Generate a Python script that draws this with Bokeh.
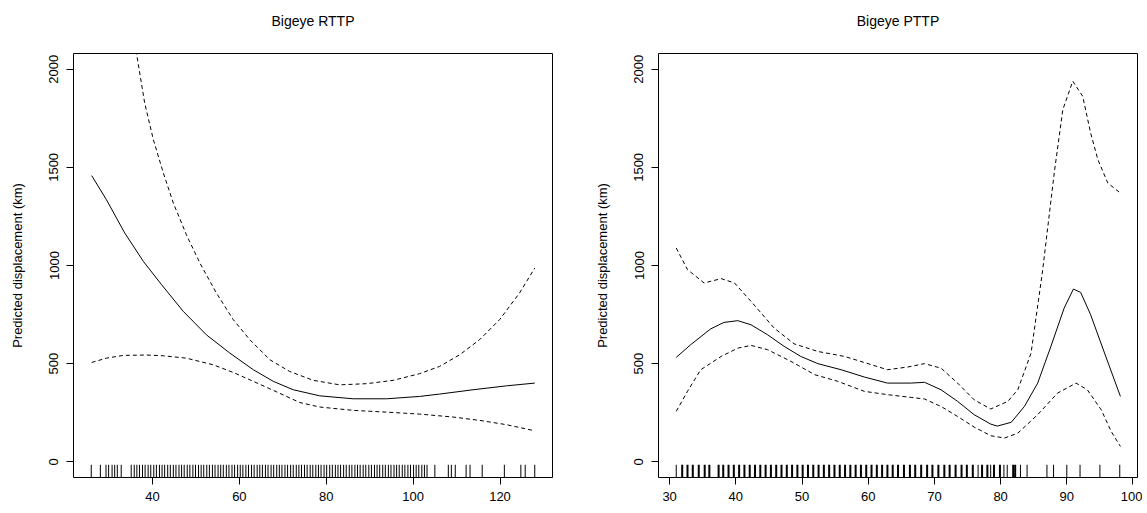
from bokeh.plotting import figure
from bokeh.layouts import row
from bokeh.models import Range1d, FixedTicker, LinearAxis
from bokeh.embed import file_html
from bokeh.resources import INLINE

# ---------------- Bigeye RTTP ----------------
rttp_fit_x = [26, 29.4, 33.6, 37.9, 42.1, 47.1, 52.4, 57.8, 63.2, 67.8, 72.4, 78.5, 86.2, 93.9, 101.5, 106.1, 113.8, 121.5, 128]
rttp_fit_y = [1458, 1335, 1166, 1021, 902, 766, 647, 554, 469, 410, 367, 336, 321, 321, 333, 345, 367, 387, 401]

rttp_up_x = [26, 34, 36.3, 38.2, 40.2, 42.5, 44.8, 47.8, 50.9, 54.7, 58.6, 62.4, 67, 71.6, 77, 83.1, 89.3, 95.4, 101.5, 106.1, 110.7, 115.3, 119.9, 124.5, 128]
rttp_up_y = [3900, 2420, 2083, 1828, 1641, 1471, 1318, 1157, 1013, 860, 724, 622, 520, 460, 415, 392, 398, 415, 449, 486, 545, 622, 724, 860, 987]

rttp_lo_x = [26, 29.4, 33.3, 38.6, 42.5, 47.8, 54, 58.6, 63.2, 67.8, 73.9, 78.5, 86.2, 93.9, 101.5, 109.2, 115.3, 121.5, 128]
rttp_lo_y = [506, 528, 542, 544, 540, 528, 494, 455, 410, 364, 302, 279, 262, 253, 243, 228, 211, 189, 158]

rttp_rug = [25.9, 28.0, 29.3, 29.9, 30.7, 31.3, 31.9, 32.8,
            35.1, 35.8, 36.4, 37.0, 37.7, 38.3, 39.0, 39.6, 40.3, 40.9, 41.6, 42.2, 42.8, 43.5, 44.1,
            44.8, 45.4, 46.1, 46.7, 47.3, 48.0, 48.6, 49.3, 49.9, 50.6, 51.2, 51.8, 52.5, 53.1, 53.8,
            54.4, 55.1, 55.7, 56.3, 57.0, 57.6, 58.3, 58.9, 59.6, 60.2, 60.8, 61.5, 62.1, 62.8, 63.4,
            64.1, 64.7, 65.3, 66.0, 66.6, 67.3, 67.9, 68.6, 69.2, 69.8, 70.5, 71.1, 71.8, 72.4, 73.1,
            73.7, 74.3, 75.0, 75.6, 76.3, 76.9, 77.6, 78.2, 78.8, 79.5, 80.1, 80.8, 81.4, 82.1, 82.7,
            83.3, 84.0, 84.6, 85.3, 85.9, 86.6, 87.2, 87.8, 88.5, 89.1, 89.8, 90.4, 91.1, 91.7, 92.3,
            93.0, 93.6, 94.3, 94.9, 95.6, 96.2, 96.8, 97.5, 98.1, 98.8, 99.4, 100.1, 100.7, 101.3,
            102.0, 102.6, 103.2,
            105.0, 108.1, 108.8, 109.7, 112.2, 113.1, 115.9, 121.0, 124.8, 125.8, 128.0]
rttp_xticks = [40, 60, 80, 100, 120]

# ---------------- Bigeye PTTP ----------------
pttp_fit_x = [31, 33.2, 36.2, 38.2, 40.3, 42.3, 44.8, 47.3, 49.8, 52.4, 55.9, 59.4, 62.9, 66.5, 68.5, 71, 73.5, 76, 78.5, 79.5, 81.6, 83.6, 85.6, 87.6, 89.6, 91, 92.1, 93.6, 95.7, 98.1]
pttp_fit_y = [532, 597, 677, 710, 719, 698, 647, 588, 537, 500, 469, 432, 401, 401, 405, 367, 308, 240, 192, 182, 201, 282, 401, 588, 783, 880, 863, 749, 554, 333]

pttp_up_x = [31, 32.7, 35.2, 37.8, 39.8, 42.3, 45.8, 48.8, 52.4, 56.4, 59.4, 62.9, 66, 68.5, 71, 73.5, 76, 78.5, 81.1, 82.6, 84.6, 86.3, 88.1, 89.4, 90.9, 92.4, 93.6, 94.7, 96.2, 98.1]
pttp_up_y = [1089, 979, 911, 933, 911, 817, 681, 601, 562, 537, 506, 469, 483, 500, 477, 401, 316, 269, 308, 367, 554, 962, 1471, 1794, 1939, 1862, 1675, 1539, 1420, 1369]

pttp_lo_x = [31, 32.7, 34.7, 37.8, 40.3, 42.3, 44.8, 48.3, 51.9, 55.4, 59.4, 62.9, 66.5, 68.5, 71, 73.5, 76, 78.5, 80.6, 82.6, 85.6, 88.6, 91.4, 93.1, 95.2, 96.7, 98.1]
pttp_lo_y = [257, 359, 469, 537, 579, 593, 571, 512, 444, 410, 359, 342, 328, 320, 282, 231, 177, 133, 121, 146, 240, 350, 401, 367, 265, 155, 78]

pttp_rug_dense = [31.9, 32.7, 33.5, 34.4, 35.3, 36.0, 37.4, 38.1, 38.9, 39.7, 40.5, 41.3, 42.1, 42.9,
                  43.7, 44.5, 45.3, 46.1, 46.9, 47.7, 48.5, 49.3, 50.1, 50.9, 51.7, 52.5, 53.3, 54.1,
                  54.9, 55.7, 56.5, 57.3, 58.1, 58.9, 59.7, 60.5, 61.3, 62.1, 62.9, 63.7, 64.5, 65.4,
                  66.3, 67.1, 68.0, 68.9, 69.7, 70.6, 71.5, 72.3, 73.2, 74.1, 74.9, 75.8, 77.2, 78.0,
                  79.0, 79.9, 81.9, 82.2]
pttp_rug_sparse = [31.0, 76.6, 78.5, 80.5, 81.0, 83.0, 84.0, 87.0, 88.0, 90.0, 92.0, 95.0, 98.0]
pttp_xticks = [30, 40, 50, 60, 70, 80, 90, 100]

y_ticks = [0, 500, 1000, 1500, 2000]
y_label = "Predicted displacement (km)"
FONT = "Liberation Sans"
FRAME_H = 424


def make_panel(title, xlo, xhi, xticks, width, left_border, right_border):
    xpad = 0.04 * (xhi - xlo)
    ylo, yhi = 0, 2000
    ypad = 0.04 * (yhi - ylo)
    p = figure(width=width, height=53 + FRAME_H + 31,
               x_range=Range1d(xlo - xpad, xhi + xpad),
               y_range=Range1d(ylo - ypad, yhi + ypad),
               output_backend="svg", toolbar_location=None, title_location=None,
               min_border_left=left_border, min_border_right=right_border,
               min_border_top=53, min_border_bottom=31)
    p.grid.visible = False
    p.outline_line_color = "black"
    p.outline_line_width = 1
    p.outline_line_alpha = 1
    p.background_fill_color = "white"
    p.border_fill_color = "white"

    for ax in p.axis:
        ax.axis_line_color = None
        ax.major_tick_in = 0
        ax.major_tick_out = 7
        ax.minor_tick_line_color = None
        ax.major_tick_line_color = "black"
        ax.major_label_text_font = FONT
        ax.major_label_text_font_size = "13px"
        ax.major_label_text_color = "black"
    p.xaxis.ticker = FixedTicker(ticks=xticks)
    p.yaxis.ticker = FixedTicker(ticks=y_ticks)
    p.xaxis.major_label_standoff = 7
    p.yaxis.major_label_orientation = "vertical"
    p.yaxis.major_label_standoff = 8
    p.yaxis.axis_label = y_label
    p.yaxis.axis_label_text_font = FONT
    p.yaxis.axis_label_text_font_size = "13px"
    p.yaxis.axis_label_text_font_style = "normal"
    p.yaxis.axis_label_text_color = "black"
    p.yaxis.axis_label_standoff = 22

    # title: label of a tick-less axis above the frame, centred on it
    top = LinearAxis(ticker=FixedTicker(ticks=[]), axis_label=title,
                     axis_line_color=None, major_tick_line_color=None,
                     minor_tick_line_color=None, major_tick_out=0, major_tick_in=0,
                     minor_tick_out=0, minor_tick_in=0, major_label_standoff=0,
                     axis_label_standoff=25, axis_label_text_font=FONT,
                     axis_label_text_font_size="14px", axis_label_text_font_style="normal",
                     axis_label_text_color="black")
    p.add_layout(top, "above")
    return p, ylo - ypad, (yhi - ylo + 2 * ypad)


def add_rug(p, xs, base, span, width):
    p.segment(x0=xs, y0=[base] * len(xs), x1=xs, y1=[base + 0.03 * span] * len(xs),
              line_color="black", line_width=width)


p1, base1, span1 = make_panel("Bigeye RTTP", min(rttp_rug), max(rttp_rug), rttp_xticks, 580, 73, 28)
p1.line(rttp_fit_x, rttp_fit_y, line_color="black", line_width=1)
p1.line(rttp_up_x, rttp_up_y, line_color="black", line_width=1, line_dash="4 3")
p1.line(rttp_lo_x, rttp_lo_y, line_color="black", line_width=1, line_dash="4 3")
add_rug(p1, rttp_rug, base1, span1, 1)

p2, base2, span2 = make_panel("Bigeye PTTP", 31, 98, pttp_xticks, 562, 78, 5)
p2.line(pttp_fit_x, pttp_fit_y, line_color="black", line_width=1)
p2.line(pttp_up_x, pttp_up_y, line_color="black", line_width=1, line_dash="4 3")
p2.line(pttp_lo_x, pttp_lo_y, line_color="black", line_width=1, line_dash="4 3")
add_rug(p2, pttp_rug_dense, base2, span2, 2)
add_rug(p2, pttp_rug_sparse, base2, span2, 1)

layout = row(p1, p2)
open("out.html", "w").write(file_html(layout, INLINE))
